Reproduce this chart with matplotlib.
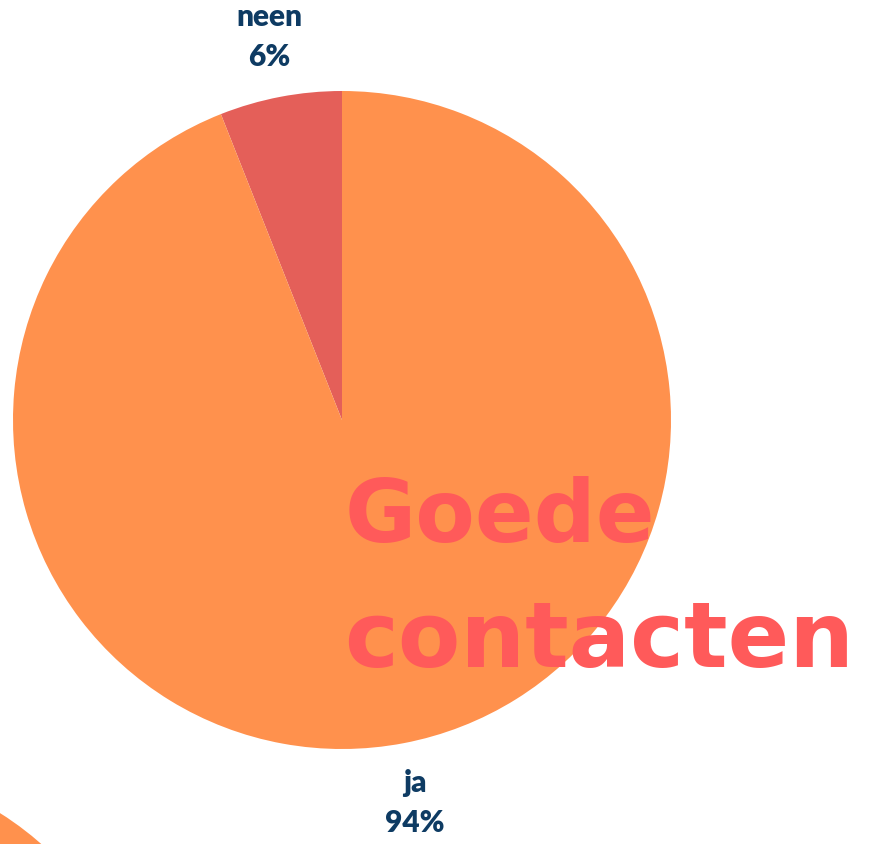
import matplotlib
matplotlib.use('Agg')
import matplotlib.pyplot as plt

# data
labels = ['neen', 'ja']
values = [6, 94]
pct_labels = ['6%', '94%']
colors = ['#E45F59', '#FF914D']

# partially visible neighbouring pie in the lower-left corner (values estimated)
other_values = [12, 88]
other_colors = ['#FF914D', '#E45F59']

title_lines = ['Goede', 'contacten']

W, H = 882, 844
fig = plt.figure(figsize=(W / 100, H / 100), dpi=100)
fig.patch.set_facecolor('white')

# main pie: centre (342, 420) px, radius 329 px
cx, cy, r = 342, 420, 329
ax = fig.add_axes([(cx - r) / W, (H - cy - r) / H, 2 * r / W, 2 * r / H])
texts = ax.pie(values, colors=colors, startangle=90, counterclock=True,
               labels=[f'{l}\n{p}' for l, p in zip(labels, pct_labels)],
               labeldistance=1.185, radius=1,
               wedgeprops=dict(linewidth=0),
               textprops=dict(family='Lato', fontweight='heavy', fontsize=21.5,
                              color='#0E3B63', linespacing=1.5))[1]
for t in texts:
    t.set_ha('center')
    t.set_va('center')
ax.set_xlim(-1, 1)
ax.set_ylim(-1, 1)
ax.set_aspect('equal')
ax.axis('off')

# neighbouring pie, mostly off canvas
ox, oy = -176, 1091
ax2 = fig.add_axes([(ox - r) / W, (H - oy - r) / H, 2 * r / W, 2 * r / H])
ax2.pie(other_values, colors=other_colors, startangle=90, counterclock=False,
        radius=1, wedgeprops=dict(linewidth=0))
ax2.set_xlim(-1, 1)
ax2.set_ylim(-1, 1)
ax2.set_aspect('equal')
ax2.axis('off')

# big title overlapping the pie
fig.text(345 / W, 1 - 542 / H, title_lines[0], family='DejaVu Sans',
         fontweight='bold', fontsize=62.5, color='#FF5A5A',
         ha='left', va='baseline')
fig.text(344 / W, 1 - 667 / H, title_lines[1], family='DejaVu Sans',
         fontweight='bold', fontsize=65.5, color='#FF5A5A',
         ha='left', va='baseline')

fig.savefig('out.png', dpi=100, facecolor='white')
